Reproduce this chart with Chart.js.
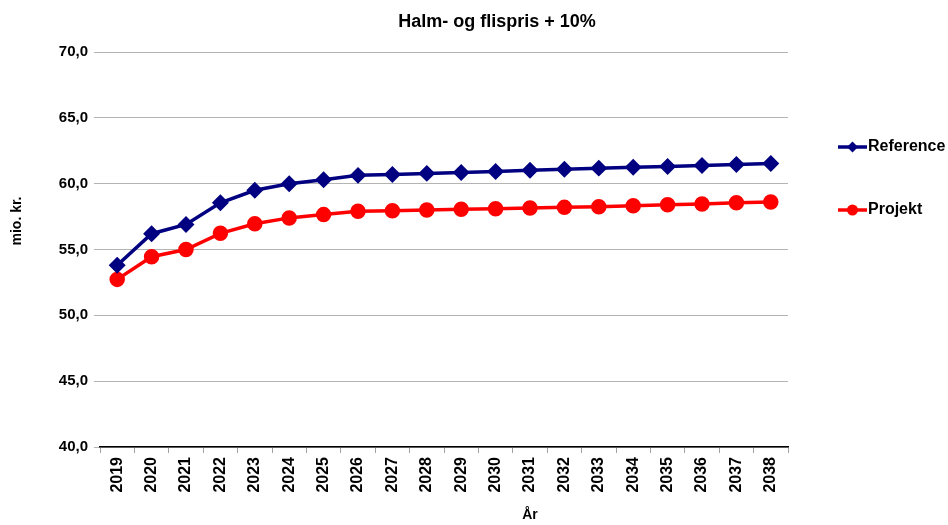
<!DOCTYPE html>
<html>
<head>
<meta charset="utf-8">
<script src="https://cdn.jsdelivr.net/npm/chart.js@4/dist/chart.umd.min.js"></script>
<style>
  html, body { margin: 0; padding: 0; background: #fff; }
  #wrap { width: 948px; height: 525px; }
</style>
</head>
<body>
<div id="wrap"><canvas id="chart" width="948" height="525"></canvas></div>
<script>
var years = ["2019","2020","2021","2022","2023","2024","2025","2026","2027","2028",
             "2029","2030","2031","2032","2033","2034","2035","2036","2037","2038"];
var reference = [53.8, 56.2, 56.9, 58.55, 59.5, 60.0, 60.3, 60.63, 60.7, 60.78,
                 60.85, 60.92, 61.02, 61.1, 61.18, 61.25, 61.3, 61.38, 61.46, 61.53];
var projekt = [52.73, 54.45, 55.0, 56.23, 56.95, 57.4, 57.65, 57.9, 57.95, 58.0,
               58.05, 58.1, 58.15, 58.2, 58.25, 58.33, 58.4, 58.45, 58.55, 58.6];
var seriesNames = ["Reference", "Projekt"];
var titleText = "Halm- og flispris + 10%";
var yTitle = "mio. kr.";
var xTitle = "År";

var FONT = "'Liberation Sans', Arial, sans-serif";

// title, axis titles and legend drawn by hand so they sit where the original has them
var extras = {
  id: "extras",
  afterDraw: function (chart) {
    var ctx = chart.ctx;
    ctx.save();
    ctx.fillStyle = "#000";
    ctx.textAlign = "center";
    ctx.textBaseline = "middle";
    ctx.font = "bold 18px " + FONT;
    ctx.fillText(titleText, 497, 22);

    ctx.font = "bold 14px " + FONT;
    ctx.fillText(xTitle, 530, 515);

    ctx.save();
    ctx.translate(17, 221);
    ctx.rotate(-Math.PI / 2);
    ctx.fillText(yTitle, 0, 0);
    ctx.restore();

    // legend
    var rows = [147, 210];
    chart.data.datasets.forEach(function (ds, i) {
      var y = rows[i];
      ctx.strokeStyle = ds.borderColor;
      ctx.lineWidth = 3.5;
      ctx.beginPath();
      ctx.moveTo(838, y);
      ctx.lineTo(867, y);
      ctx.stroke();
      ctx.fillStyle = ds.backgroundColor;
      ctx.beginPath();
      if (ds.pointStyle === "rectRot") {
        ctx.moveTo(852.5, y - 5.5);
        ctx.lineTo(858, y);
        ctx.lineTo(852.5, y + 5.5);
        ctx.lineTo(847, y);
        ctx.closePath();
      } else {
        ctx.arc(852.5, y, 5.5, 0, Math.PI * 2);
      }
      ctx.fill();
      ctx.fillStyle = "#000";
      ctx.textAlign = "left";
      ctx.font = "bold 16px " + FONT;
      ctx.fillText(ds.label, 868, y);
    });
    ctx.restore();
  }
};

var ctx = document.getElementById("chart").getContext("2d");
var chart = new Chart(ctx, {
  type: "line",
  data: {
    labels: years,
    datasets: [
      {
        label: seriesNames[0],
        data: reference,
        borderColor: "#000080",
        backgroundColor: "#000080",
        borderWidth: 3.5,
        pointStyle: "rectRot",
        pointRadius: 6,
        pointHoverRadius: 6,
        tension: 0
      },
      {
        label: seriesNames[1],
        data: projekt,
        borderColor: "#ff0000",
        backgroundColor: "#ff0000",
        borderWidth: 3.5,
        pointStyle: "circle",
        pointRadius: 6,
        pointHoverRadius: 6,
        tension: 0
      }
    ]
  },
  options: {
    responsive: false,
    animation: false,
    layout: { padding: { top: 52, right: 160, left: 0, bottom: 0 } },
    plugins: {
      legend: { display: false },
      title: { display: false },
      tooltip: { enabled: false }
    },
    scales: {
      x: {
        offset: true,
        grid: {
          offset: true,
          drawOnChartArea: false,
          drawTicks: true,
          tickLength: 6,
          color: "#a0a0a0"
        },
        border: { display: true, color: "#000", width: 1.5 },
        ticks: {
          color: "#000",
          font: { family: FONT, size: 16, weight: "bold" },
          minRotation: 90,
          maxRotation: 90,
          autoSkip: false,
          padding: 4
        },
        afterFit: function (scale) { scale.height = 78; }
      },
      y: {
        min: 40,
        max: 70,
        grid: {
          color: "#b4b4b4",
          lineWidth: 1,
          tickLength: 6
        },
        border: { display: false },
        ticks: {
          stepSize: 5,
          color: "#000",
          font: { family: FONT, size: 15, weight: "bold" },
          padding: 6,
          callback: function (v) { return v.toFixed(1).replace(".", ","); }
        },
        afterFit: function (scale) { scale.width = 100; }
      }
    }
  },
  plugins: [extras]
});
</script>
</body>
</html>
